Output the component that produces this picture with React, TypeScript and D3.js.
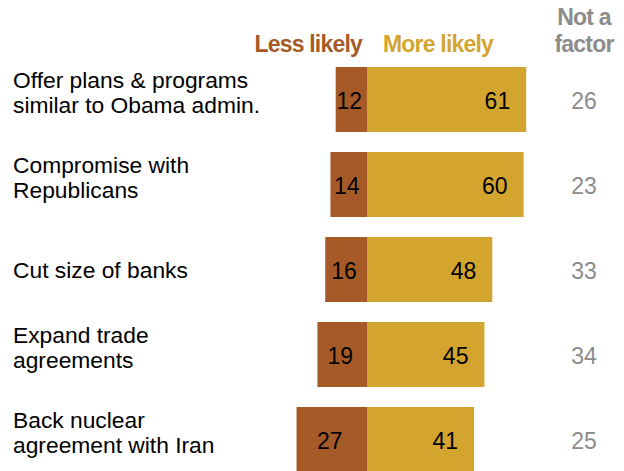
import React from "react";
import * as d3 from "d3";

const categories = [
  "Offer plans & programs|similar to Obama admin.",
  "Compromise with|Republicans",
  "Cut size of banks",
  "Expand trade|agreements",
  "Back nuclear|agreement with Iran",
];
const lessLikely = [12, 14, 16, 19, 27];
const moreLikely = [61, 60, 48, 45, 41];
const notAFactor = [26, 23, 33, 34, 25];

const W = 624;
const H = 471;
const CENTER = 367;
const PX = 2.61;
const FONT = "'Liberation Sans', Arial, sans-serif";
const LESS = "#A65A27";
const MORE = "#D3A52F";
const GRAY = "#8C8C8C";

export default function App() {
  const y = d3
    .scaleBand<string>()
    .domain(categories)
    .range([57, 482])
    .paddingInner(20 / 85)
    .paddingOuter(10 / 85);
  const x = d3
    .scaleLinear()
    .domain([-30, 70])
    .range([CENTER - 30 * PX, CENTER + 70 * PX]);

  const hdr = { fontWeight: "bold" as const, fontSize: 23, letterSpacing: -0.8 };

  return (
    <svg
      width={W}
      height={H}
      style={{ position: "absolute", left: 0, top: 0, background: "#fff" }}
      fontFamily={FONT}
    >
      <text x={362} y={52} textAnchor="end" {...hdr} fill={LESS}>
        Less likely
      </text>
      <text x={383} y={52} textAnchor="start" {...hdr} fill={MORE}>
        More likely
      </text>
      <text x={584} y={25} textAnchor="middle" {...hdr} fill={GRAY}>
        Not a
      </text>
      <text x={584} y={52} textAnchor="middle" {...hdr} fill={GRAY}>
        factor
      </text>
      {categories.map((c, i) => {
        const y0 = y(c)!;
        const bw = y.bandwidth();
        const cy = y0 + bw / 2;
        const lines = c.split("|");
        const x0 = x(-lessLikely[i]);
        const x1 = x(0);
        const x2 = x(moreLikely[i]);
        return (
          <g key={c}>
            {lines.map((l, j) => (
              <text
                key={j}
                x={13}
                y={lines.length === 1 ? cy + 8 : cy - 12 + j * 25}
                fontSize={22.8}
                fill="#000"
              >
                {l}
              </text>
            ))}
            <rect x={x0} y={y0} width={x1 - x0} height={bw} fill={LESS} />
            <rect x={x1} y={y0} width={x2 - x1} height={bw} fill={MORE} />
            <text x={(x0 + x1) / 2 - 2} y={cy + 9} textAnchor="middle" fontSize={23} fill="#000">
              {lessLikely[i]}
            </text>
            <text x={x2 - 16} y={cy + 9} textAnchor="end" fontSize={23} fill="#000">
              {moreLikely[i]}
            </text>
            <text x={584} y={cy + 9} textAnchor="middle" fontSize={23} fill={GRAY}>
              {notAFactor[i]}
            </text>
          </g>
        );
      })}
    </svg>
  );
}
